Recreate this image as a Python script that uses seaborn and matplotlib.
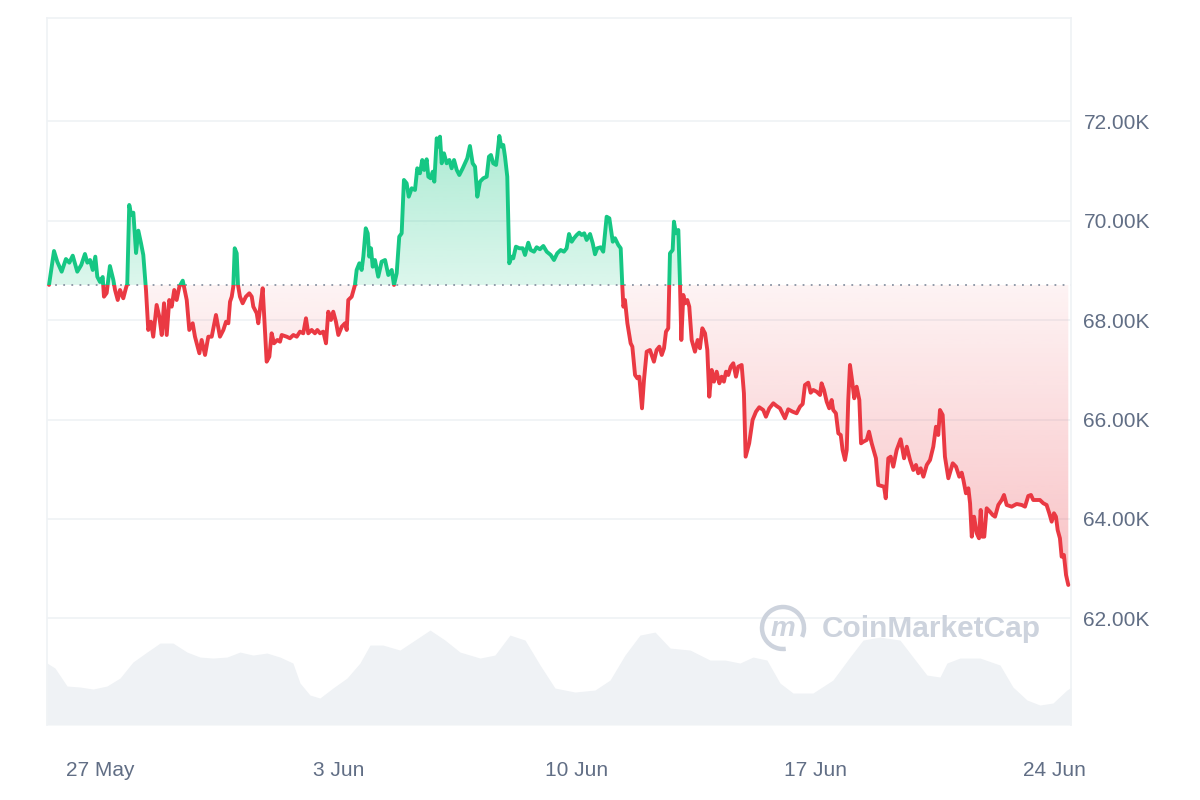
import numpy as np
import pandas as pd
import matplotlib
matplotlib.use('Agg')
import matplotlib.pyplot as plt
import matplotlib.dates as mdates
import matplotlib.colors as mcolors
from matplotlib.patches import Rectangle, Arc
from matplotlib.path import Path
import seaborn as sns

# BTC price, 25 May - 24 Jun (hours counted from 25 May 00:00)
start = pd.Timestamp('2024-05-25 00:00')

price_hours = [
    12.1, 15.6, 17.9, 21.0, 24.0, 26.4, 28.8, 32.0, 34.8, 37.4, 39.1, 41.0, 42.9, 44.7, 46.1, 48.0,
    49.9, 50.8, 52.7, 55.0, 57.4, 58.6, 60.5, 62.1, 64.4, 66.3, 67.2, 68.6, 70.0, 71.5, 73.4, 75.0,
    76.9, 78.5, 80.4, 82.0, 83.9, 85.5, 87.9, 89.8, 91.5, 93.1, 95.0, 96.8, 98.5, 100.3, 102.0, 103.9,
    106.3, 109.1, 110.9, 113.3, 114.9, 118.0, 119.6, 122.0, 124.3, 126.7, 129.7, 132.5, 134.9, 136.8,
    138.4, 139.6, 140.8, 141.9, 142.9, 144.3, 145.2, 146.6, 148.5, 150.8, 153.2, 154.9, 156.0, 158.4,
    159.5, 161.2, 162.6, 164.2, 165.4, 167.3, 168.9, 170.6, 172.9, 174.8, 176.0, 179.5, 181.8, 184.2,
    186.6, 188.9, 191.2, 193.1, 194.7, 197.1, 199.4, 201.1, 203.0, 205.3, 207.2, 208.8, 210.7, 212.3,
    214.2, 215.9, 218.3, 220.6, 221.8, 222.9, 225.3, 227.6, 228.8, 230.7, 232.3, 233.5, 235.2, 236.6,
    237.7, 238.9, 240.1, 241.7, 244.0, 246.4, 248.8, 251.1, 253.5, 255.1, 257.0, 258.8, 260.5, 262.1,
    264.0, 265.5, 267.6, 269.9, 271.5, 273.4, 275.0, 276.4, 278.1, 279.3, 280.9, 282.4, 283.5, 285.2,
    286.6, 287.5, 288.7, 290.3, 292.2, 294.1, 295.7, 297.4, 299.3, 301.1, 303.5, 305.1, 306.7, 308.6,
    310.5, 312.2, 313.8, 315.7, 318.0, 320.4, 322.0, 323.4, 325.0, 327.0, 327.9, 329.3, 330.7, 332.1,
    333.3, 334.9, 336.3, 338.0, 339.1, 341.0, 343.4, 345.8, 347.4, 349.7, 351.4, 353.7, 355.6, 357.9,
    360.3, 362.7, 365.5, 367.8, 370.1, 372.5, 374.8, 376.7, 378.4, 380.3, 381.9, 383.8, 385.6, 387.3,
    389.1, 390.8, 393.2, 395.1, 396.7, 398.3, 400.7, 402.5, 404.9, 406.8, 409.2, 410.8, 413.1, 414.8,
    415.9, 416.7, 417.8, 419.5, 421.8, 423.0, 424.9, 426.5, 427.9, 429.8, 431.2, 433.1, 435.4, 438.2,
    440.1, 442.0, 443.7, 445.3, 446.7, 448.3, 449.5, 451.4, 452.3, 453.7, 455.4, 456.5, 457.5, 458.9,
    460.1, 461.7, 463.1, 464.8, 467.1, 469.0, 470.6, 472.3, 474.2, 475.8, 477.2, 478.9, 480.5, 482.4,
    484.3, 485.9, 487.5, 489.0, 490.6, 492.3, 494.1, 496.0, 497.6, 500.0, 501.6, 502.8, 505.3, 507.7,
    510.1, 512.4, 515.2, 517.1, 519.5, 522.3, 524.6, 527.0, 530.5, 532.8, 535.9, 538.7, 541.1, 543.0,
    544.6, 546.9, 548.6, 550.4, 552.8, 555.2, 556.3, 558.0, 559.9, 561.7, 563.4, 564.5, 566.4, 568.1,
    569.8, 571.1, 572.8, 574.0, 575.1, 576.3, 577.9, 579.3, 581.0, 582.9, 584.1, 585.7, 588.1, 589.7,
    591.6, 594.6, 596.2, 598.6, 600.3, 601.5, 603.3, 605.0, 606.8, 609.2, 612.0, 614.4, 616.3, 618.6,
    620.9, 622.8, 624.4, 626.1, 628.0, 630.4, 632.7, 635.0, 636.9, 638.5, 639.7, 641.6, 643.2, 645.6,
    648.7, 651.0, 653.3, 655.0, 656.2, 658.0, 659.7, 660.9, 662.1, 663.7, 665.6, 667.2, 668.4, 669.5,
    670.9, 672.6, 674.9, 676.8, 678.5, 680.8, 683.2, 684.8, 686.7, 690.2, 693.7, 697.3, 699.6, 701.9,
    703.8, 705.4, 707.8, 710.1, 712.5, 714.8, 716.7, 718.4, 720.0, 721.4, 722.6, 724.2, 725.4, 727.0,
    728.5, 730.1,
]
price_usd = [
    68710, 69392, 69177, 68976, 69231, 69157, 69298, 68976, 69111, 69332, 69157, 69211, 69010, 69278, 68875, 68769,
    68869, 68473, 68547, 69090, 68809, 68608, 68406, 68608, 68441, 68648, 68728, 70318, 70117, 70163, 69352, 69801,
    69547, 69312, 68608, 67803, 67970, 67668, 68306, 68070, 67702, 68340, 67702, 68406, 68272, 68608, 68406, 68674,
    68795, 68406, 67803, 67938, 67668, 67334, 67602, 67300, 67668, 67668, 68105, 67668, 67803, 67970,
    67938, 68372, 68473, 68674, 69447, 69346, 68708, 68473, 68340, 68473, 68541, 68473, 68272, 68139,
    67938, 68340, 68642, 67803, 67165, 67266, 67736, 67535, 67602, 67567, 67702, 67668, 67636, 67702,
    67668, 67769, 67736, 68038, 67736, 67803, 67736, 67803, 67736, 67769, 67535, 68171, 68004, 68171,
    67970, 67702, 67869, 67938, 67803, 68406, 68473, 68708, 69010, 69145, 69010, 69278, 69849, 69748,
    69278, 69447, 69076, 69211, 68875, 69177, 69211, 68909, 69010, 68708, 68944, 69680, 69748, 70821,
    70754, 70485, 70654, 70620, 71056, 70956, 71223, 71022, 71237, 70887, 70855, 70988, 70787, 71660,
    71491, 71692, 71157, 71358, 71157, 71223, 71056, 71223, 71022, 70921, 71056, 71157, 71257, 71505,
    71157, 71088, 70485, 70787, 70855, 70887, 71290, 71324, 71157, 71123, 71324, 71706, 71491, 71525,
    71290, 70887, 69145, 69278, 69245, 69479, 69447, 69447, 69312, 69559, 69412, 69378, 69467, 69427,
    69493, 69378, 69312, 69211, 69346, 69412, 69378, 69447, 69734, 69579, 69648, 69714, 69761, 69714,
    69748, 69614, 69734, 69547, 69326, 69447, 69467, 69378, 70082, 70050, 69579, 69648, 69513, 69447,
    68708, 68272, 68406, 67938, 67535, 67467, 66897, 66831, 66863, 66227, 66797, 67366, 67400, 67165,
    67400, 67467, 67300, 67435, 67769, 67837, 69346, 69412, 69982, 69748, 69815, 68809, 67602, 68507,
    68340, 68406, 68272, 67602, 67366, 67602, 67435, 67837, 67736, 67400, 66461, 66998, 66763, 66964,
    66730, 66863, 66763, 66964, 66897, 67064, 67133, 66863, 67064, 67099, 66529, 65254, 65523, 65992,
    66159, 66248, 66193, 66058, 66227, 66328, 66274, 66227, 66026, 66207, 66159, 66127, 66260, 66314,
    66696, 66743, 66541, 66596, 66561, 66495, 66730, 66596, 66360, 66227, 66394, 66193, 66127, 65724,
    65690, 65389, 65187, 65389, 66395, 67099, 66763, 66429, 66662, 66394, 65523, 65555, 65590, 65757,
    65523, 65221, 64684, 64664, 64650, 64417, 65221, 65254, 65052, 65388, 65604, 65221, 65455, 65187,
    64986, 65087, 64920, 65020, 64851, 65087, 65187, 65455, 65857, 65690, 66193, 66093, 65254, 64819,
    65121, 65052, 64851, 64932, 64785, 64517, 64618, 64316, 63644, 64046, 63712, 63612, 64181, 63644,
    63644, 64215, 64147, 64081, 64046, 64282, 64382, 64483, 64282, 64248, 64302, 64282, 64248, 64463,
    64483, 64382, 64382, 64382, 64316, 64282, 64115, 63946, 64115, 64046, 63779, 63612, 63242, 63276,
    62874, 62672,
]

# 24h volume, billions USD
volume_hours = [
    10.7, 16.3, 24.8, 33.9, 43.1, 52.9, 62.1, 71.2, 81.1, 90.3, 99.4, 109.3, 118.4, 127.6, 137.5, 146.6,
    155.8, 165.6, 174.8, 183.9, 188.9, 195.9, 202.9, 212.1, 222.0, 231.1, 238.2, 247.3, 259.3, 269.9,
    280.5, 291.0, 301.6, 315.7, 326.2, 336.8, 347.4, 358.0, 368.5, 382.6, 396.7, 407.3, 417.8, 428.4,
    439.0, 449.6, 463.7, 477.7, 488.3, 498.8, 508.0, 517.8, 527.0, 536.2, 550.2, 564.3, 576.3, 585.5,
    597.4, 611.5, 620.7, 630.5, 639.7, 644.6, 653.8, 667.9, 682.0, 691.1, 701.0, 710.1, 719.3, 729.1,
    732.0,
]
volume_bn = [
    24.8, 22.8, 15.6, 15.2, 14.4, 15.6, 18.8, 25.2, 29.2, 32.8, 32.8, 29.2, 27.2, 26.8, 27.2, 29.2,
    28.0, 28.8, 27.2, 24.8, 16.8, 12.0, 10.8, 14.8, 18.8, 24.8, 32.0, 32.0, 30.0, 34.0,
    38.0, 34.0, 29.2, 26.8, 28.0, 36.0, 34.0, 24.0, 14.8, 13.2, 14.0, 18.0, 28.0, 36.0,
    37.2, 30.8, 30.0, 26.0, 26.0, 24.8, 27.2, 26.0, 16.8, 12.8, 12.8, 18.0, 27.2, 34.0,
    35.2, 34.0, 27.2, 20.0, 19.2, 24.8, 26.8, 26.8, 24.0, 15.2, 10.0, 8.0, 8.8, 14.0,
    15.0,
]

base_price = 68710
ytick_values = [62000, 64000, 66000, 68000, 70000, 72000]
ytick_labels = ['62.00K', '64.00K', '66.00K', '68.00K', '70.00K', '72.00K']
xtick_dates = ['2024-05-27', '2024-06-03', '2024-06-10', '2024-06-17', '2024-06-24']
xtick_labels = ['27 May', '3 Jun', '10 Jun', '17 Jun', '24 Jun']

GREEN = '#16c784'
RED = '#ea3943'
TEXT = '#616e85'

df = pd.DataFrame({'time': start + pd.to_timedelta(price_hours, unit='h'), 'price': price_usd})
vol = pd.DataFrame({'time': start + pd.to_timedelta(volume_hours, unit='h'), 'volume': volume_bn})

sns.set_theme(style='white')
plt.rcParams['font.family'] = ['Liberation Sans', 'DejaVu Sans']

fig = plt.figure(figsize=(12, 8), dpi=100)
rect = [47 / 1200, 75 / 800, 1024 / 1200, 707 / 800]
ax_vol = fig.add_axes(rect)
ax = fig.add_axes(rect, sharex=ax_vol)
ax.patch.set_alpha(0)

x_lo = start + pd.Timedelta(hours=10.67)
x_hi = start + pd.Timedelta(hours=732.0)
y_lo, y_hi = 59855, 74080

# volume band at the bottom
ax_vol.fill_between(vol['time'], vol['volume'], 0, color='#eff2f5', lw=0)
ax_vol.set_ylim(0, 283)
ax_vol.set_xlim(x_lo, x_hi)
ax_vol.set_yticks([])
ax_vol.tick_params(axis='x', length=0, labelbottom=False)
for s in ax_vol.spines.values():
    s.set_visible(False)

# gradient fills above / below the opening price
t_num = mdates.date2num(df['time'])
p = np.array(price_usd, dtype=float)


def gradient_fill(mask, y0, y1, color, a0, a1):
    coll = ax.fill_between(t_num, p, base_price, where=mask, interpolate=True,
                           facecolor='none', edgecolor='none')
    path = Path.make_compound_path(*coll.get_paths())
    img = np.zeros((256, 1, 4))
    img[..., :3] = mcolors.to_rgb(color)
    img[..., 3] = np.linspace(a0, a1, 256)[:, None]
    lo, hi = min(y0, y1), max(y0, y1)
    if y0 > y1:
        img = img[::-1]
    im = ax.imshow(img, extent=[t_num[0], t_num[-1], lo, hi], origin='lower',
                   aspect='auto', zorder=1, interpolation='bilinear')
    im.set_clip_path(path, transform=ax.transData)


gradient_fill(p >= base_price, base_price, 71800, GREEN, 0.15, 0.36)
gradient_fill(p <= base_price, base_price, 62600, RED, 0.06, 0.32)

# price line, green above and red below the opening price
for c in (GREEN, RED):
    sns.lineplot(data=df, x='time', y='price', ax=ax, color=c, linewidth=2.8,
                 estimator=None, zorder=3, solid_joinstyle='round', solid_capstyle='round')
green_line, red_line = ax.lines[-2], ax.lines[-1]
xa, xb = mdates.date2num(x_lo), mdates.date2num(x_hi)
green_line.set_clip_path(Rectangle((xa, base_price), xb - xa, y_hi - base_price, transform=ax.transData))
red_line.set_clip_path(Rectangle((xa, y_lo), xb - xa, base_price - y_lo, transform=ax.transData))

ax.axhline(base_price, color='#8a93a3', lw=1.3, ls=(0, (1, 3.5)), zorder=2)

ax.set_xlim(x_lo, x_hi)
ax.set_ylim(y_lo, y_hi)
ax.set_xlabel('')
ax.set_ylabel('')

ax.set_yticks(ytick_values)
ax.set_yticklabels(ytick_labels)
ax.yaxis.tick_right()
ax.set_xticks(pd.to_datetime(xtick_dates))
ax.set_xticklabels(xtick_labels)
ax.tick_params(axis='y', length=0, pad=9, labelsize=15, labelcolor=TEXT)
ax.tick_params(axis='x', length=0, pad=26, labelsize=15, labelcolor=TEXT)
ax.grid(axis='y', color='#eff2f5', lw=1.2)
ax.grid(axis='x', visible=False)
for name, s in ax.spines.items():
    s.set_color('#eff2f5')
    s.set_linewidth(1.2)
ax.spines['bottom'].set_visible(False)

# watermark
fig.text(822 / 1200, 1 - 629 / 800, 'CoinMarketCap', fontsize=21.5, fontweight='bold',
         color='#cdd3dd', ha='left', va='center', zorder=0)
fig.add_artist(Arc((783 / 1200, 1 - 628 / 800), 42 / 1200, 42 / 800, theta1=-35, theta2=275,
                   transform=fig.transFigure, color='#cdd3dd', lw=3.2))
fig.text(783 / 1200, 1 - 629 / 800, 'm', fontsize=20, fontweight='bold', style='italic',
         color='#cdd3dd', ha='center', va='center')

fig.savefig('out.png', dpi=100)
